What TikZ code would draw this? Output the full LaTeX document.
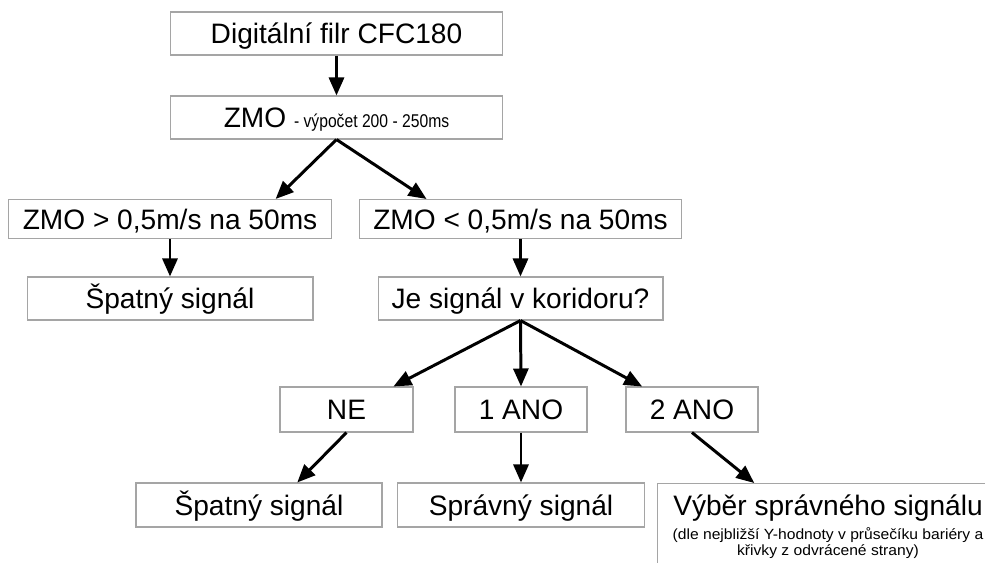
\documentclass[tikz,border=0pt]{standalone}
\usepackage{fontspec}
\setmainfont{Liberation Sans}
\newfontfamily\smallfont[FakeStretch=0.85]{Liberation Sans}
\newfontfamily\notefont[FakeStretch=1.06]{Liberation Sans}
\usetikzlibrary{positioning, calc, arrows.meta}
\definecolor{boxgray}{RGB}{165,165,165}

\begin{document}
\begin{tikzpicture}[
	x=0.02cm, y=-0.02cm,
	font=\fontsize{16}{19}\selectfont,
	box/.style={
		draw=boxgray, line width=0.6pt,
		inner sep=0pt, text height=11.5pt, text depth=0pt,
		minimum height=0.86cm
	},
	note/.style={anchor=base, inner sep=0pt, font=\notefont\fontsize{8.4}{8.4}\selectfont},
	arrow/.style={-{Triangle[length=0.36cm, width=0.3cm]}, line width=1.7pt}
	]
	
	\useasboundingbox (0,0) rectangle (985,562);
	\clip (0,0) rectangle (985,562);
	
	% Filter and ZMO
	\node[box, minimum width=6.66cm] (filtr) at (336.5,33.5) {Digitální filr CFC180};
	\node[box, minimum width=6.66cm] (zmo) at (336.5,117.5) {ZMO {\smallfont\fontsize{10.5}{12}\selectfont - výpočet 200 - 250ms}};
	
	% Branches on ZMO
	\node[box, minimum width=6.48cm, minimum height=0.78cm] (fast) at (170,219) {ZMO > 0,5m/s na 50ms};
	\node[box, minimum width=6.46cm, minimum height=0.78cm] (slow) at (520.5,219) {ZMO < 0,5m/s na 50ms};
	\node[box, minimum width=5.72cm] (bad1) at (170,298.5) {Špatný signál};
	\node[box, minimum width=5.70cm] (corr) at (520.5,298.5) {Je signál v koridoru?};
	
	% Corridor answers
	\node[box, minimum width=2.66cm, minimum height=0.9cm] (ne) at (346.5,409.5) {NE};
	\node[box, minimum width=2.64cm, minimum height=0.9cm] (ano1) at (521,409.5) {1 ANO};
	\node[box, minimum width=2.64cm, minimum height=0.9cm] (ano2) at (692,409.5) {2 ANO};
	
	% Results
	\node[box, minimum width=4.92cm, minimum height=0.88cm] (bad2) at (259,505) {Špatný signál};
	\node[box, minimum width=4.94cm, minimum height=0.88cm] (good) at (521,505) {Správný signál};
	\node[box, minimum width=6.84cm, minimum height=2cm, anchor=north] (sel) at (828,483) {};
	\node[anchor=base, inner sep=0pt] (sel-title) at (828,515) {Výběr správného signálu};
	\node[note] (sel-note1) at (828,539) {(dle nejbližší Y-hodnoty v průsečíku bariéry a};
	\node[note] (sel-note2) at (828,555) {křivky z odvrácené strany)};
	
	% Arrows
	\draw[arrow] (filtr) -- (zmo);
	\draw[arrow] (zmo.south) -- ($(fast.north)!0.65!(fast.north east)$);
	\draw[arrow] (zmo.south) -- ($(slow.north west)!0.42!(slow.north)$);
	\draw[arrow] (fast) -- (bad1);
	\draw[arrow] (slow) -- (corr);
	\draw[arrow] (corr.south) -- ($(ne.north)!0.7!(ne.north east)$);
	\draw[arrow] (corr.south) -- (ano1.north);
	\draw[arrow] (corr.south) -- ($(ano2.north west)!0.25!(ano2.north)$);
	\draw[arrow] (ne.south) -- ($(bad2.north)!0.31!(bad2.north east)$);
	\draw[arrow] (ano1) -- (good);
	\draw[arrow] (ano2.south) -- ($(sel.north west)!0.57!(sel.north)$);
	
\end{tikzpicture}
\end{document}
